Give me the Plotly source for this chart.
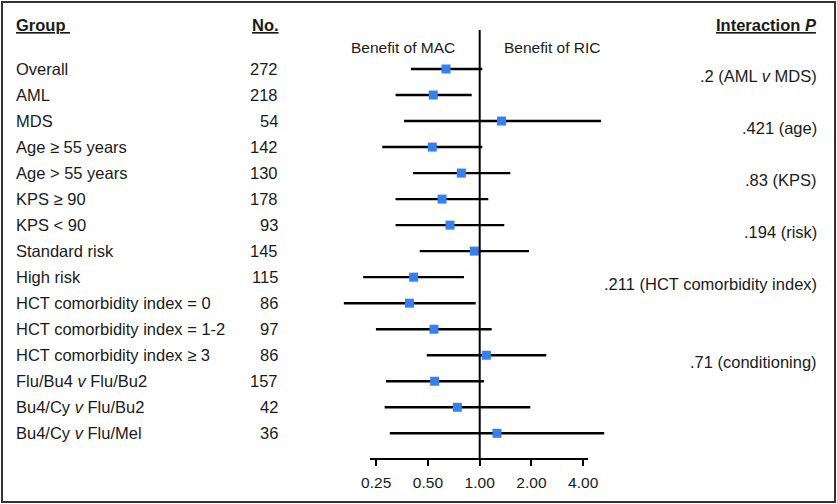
import math
import plotly.graph_objects as go

groups = [
    "Overall", "AML", "MDS", "Age ≥ 55 years", "Age > 55 years",
    "KPS ≥ 90", "KPS < 90", "Standard risk", "High risk",
    "HCT comorbidity index = 0", "HCT comorbidity index = 1-2",
    "HCT comorbidity index ≥ 3", "Flu/Bu4 <i>v</i> Flu/Bu2",
    "Bu4/Cy <i>v</i> Flu/Bu2", "Bu4/Cy <i>v</i> Flu/Mel",
]
n_patients = [272, 218, 54, 142, 130, 178, 93, 145, 115, 86, 97, 86, 157, 42, 36]
hazard = [0.637, 0.537, 1.34, 0.53, 0.782, 0.604, 0.672, 0.93, 0.413, 0.39,
          0.542, 1.093, 0.547, 0.741, 1.26]
ci_low = [0.398, 0.324, 0.363, 0.271, 0.409, 0.324, 0.324, 0.448, 0.21, 0.162,
          0.249, 0.492, 0.285, 0.28, 0.30]
ci_high = [1.035, 0.898, 5.08, 1.035, 1.506, 1.122, 1.39, 1.936, 0.81, 0.948,
           1.174, 2.44, 1.06, 1.97, 5.3]
p_labels = [".2 (AML <i>v</i> MDS)", ".421 (age)", ".83 (KPS)", ".194 (risk)",
            ".211 (HCT comorbidity index)", ".71 (conditioning)"]
p_anchor_rows = [0, 2, 4, 6, 8, 11]
tick_vals = [0.25, 0.5, 1, 2, 4]
tick_text = ["0.25", "0.50", "1.00", "2.00", "4.00"]

W, H = 837, 504
FONT = "Liberation Sans, Arial, Helvetica, sans-serif"
TXT = "#1a1a1a"
rows = list(range(len(groups)))

# pixel geometry helpers (layout only)
px_per_doubling = 51.75
px_one = 479.7
def xlog10(px):
    return (px - px_one) / px_per_doubling * math.log10(2)

row0_px, row_step = 69.0, 26.02
axis_px = 459.0
def row_at(px):
    return (px - row0_px) / row_step

fig = go.Figure()
fig.add_trace(go.Scatter(
    x=hazard, y=rows, mode="markers",
    marker=dict(symbol="square", size=9, color="#3380ee"),
    error_x=dict(type="data", symmetric=False,
                 array=[h - e for h, e in zip(ci_high, hazard)],
                 arrayminus=[e - l for e, l in zip(hazard, ci_low)],
                 color="black", thickness=2.4, width=0),
    hoverinfo="skip", showlegend=False, cliponaxis=False,
))

y_bottom = (H - axis_px) / H
fig.update_layout(
    width=W, height=H, margin=dict(l=0, r=0, t=0, b=0),
    paper_bgcolor="white", plot_bgcolor="white",
    font=dict(family=FONT, size=16.5, color=TXT),
    xaxis=dict(type="log", range=[xlog10(0), xlog10(W)], domain=[0, 1],
               tickvals=tick_vals, ticktext=tick_text, ticks="outside",
               ticklen=6, tickwidth=2, tickcolor="black", showgrid=False,
               zeroline=False, showline=False, tickfont=dict(size=15.5, color=TXT),
               ticklabelstandoff=3, fixedrange=True),
    yaxis=dict(range=[row_at(axis_px), row_at(0)], domain=[y_bottom, 1],
               visible=False, showgrid=False, zeroline=False, fixedrange=True),
)

anns = []
for i, (g, n) in enumerate(zip(groups, n_patients)):
    anns.append(dict(x=14 / W, y=i, xref="paper", yref="y", text=g,
                     xanchor="left", yanchor="middle", showarrow=False))
    anns.append(dict(x=280 / W, y=i, xref="paper", yref="y", text=str(n),
                     xanchor="right", yanchor="middle", showarrow=False))
for lab, r in zip(p_labels, p_anchor_rows):
    anns.append(dict(x=819 / W, y=r + 0.27, xref="paper", yref="y", text=lab,
                     xanchor="right", yanchor="middle", showarrow=False))

hdr_y = row_at(25)
anns += [
    dict(x=14 / W, y=hdr_y, xref="paper", yref="y", text="<b><u>Group </u></b>",
         xanchor="left", yanchor="middle", showarrow=False),
    dict(x=281 / W, y=hdr_y, xref="paper", yref="y", text="<b><u>No.</u></b>",
         xanchor="right", yanchor="middle", showarrow=False),
    dict(x=819 / W, y=hdr_y, xref="paper", yref="y",
         text="<b><u>Interaction <i>P</i></u></b>",
         xanchor="right", yanchor="middle", showarrow=False),
    dict(x=457 / W, y=row_at(47), xref="paper", yref="y", text="Benefit of MAC",
         xanchor="right", yanchor="middle", showarrow=False, font=dict(size=15.5)),
    dict(x=502 / W, y=row_at(47), xref="paper", yref="y", text="Benefit of RIC",
         xanchor="left", yanchor="middle", showarrow=False, font=dict(size=15.5)),
]
fig.update_layout(annotations=anns)

fig.add_shape(type="line", xref="x", yref="paper", x0=1, x1=1,
              y0=y_bottom, y1=(H - 30) / H, line=dict(color="black", width=2))
fig.add_shape(type="line", xref="paper", yref="paper", x0=370 / W, x1=588 / W,
              y0=y_bottom, y1=y_bottom, line=dict(color="black", width=2))
fig.add_shape(type="rect", xref="paper", yref="paper", x0=2 / W, x1=(W - 2) / W,
              y0=2 / H, y1=(H - 2) / H, line=dict(color="#333333", width=2))

fig.write_html("out.html", config={"displayModeBar": False, "staticPlot": True},
               post_script="document.body.style.margin='0';document.body.style.overflow='hidden';")
